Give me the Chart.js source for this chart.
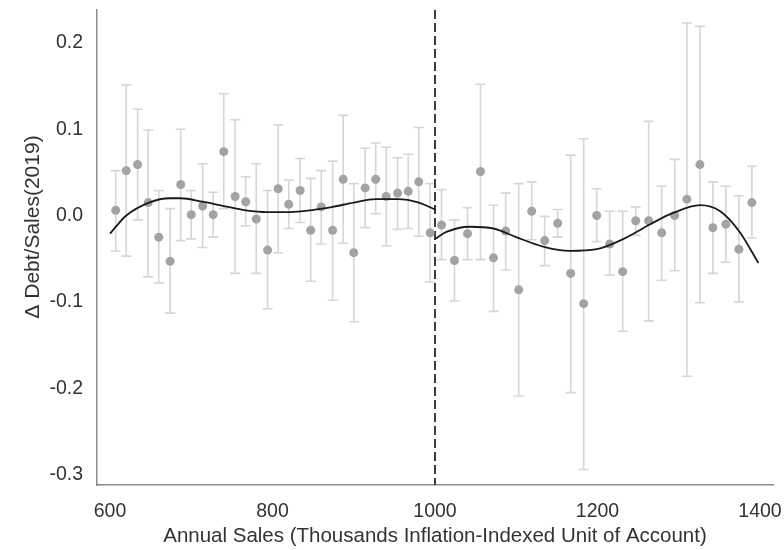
<!DOCTYPE html>
<html>
<head>
<meta charset="utf-8">
<script src="https://cdn.jsdelivr.net/npm/chart.js@4.4.1/dist/chart.umd.min.js"></script>
<style>
  html, body { margin: 0; padding: 0; background: #fff; }
</style>
</head>
<body>
<canvas id="rdChart" width="784" height="550"></canvas>
<script>
// binned means with confidence bands

const binX = [607, 620, 634, 647, 660, 674, 687, 700, 714, 727, 740, 754, 767, 780, 794,
              807, 820, 834, 847, 860, 874, 887, 900, 914, 927, 940, 954, 967, 980, 994,
              1008, 1024, 1040, 1056, 1072, 1087, 1103, 1119, 1135, 1151, 1167, 1183, 1199,
              1215, 1231, 1247, 1263, 1279, 1295, 1310, 1326, 1342, 1358, 1374, 1390];

const binMean = [0.006, 0.052, 0.059, 0.015, -0.025, -0.053, 0.036, 0.001, 0.011, 0.001, 0.074, 0.022, 0.016, -0.004, -0.040,
                 0.031, 0.013, 0.029, -0.017, 0.010, -0.017, 0.042, -0.043, 0.032, 0.042, 0.022, 0.026, 0.028, 0.039, -0.020,
                 -0.011, -0.052, -0.021, 0.051, -0.049, -0.018, -0.086, 0.005, -0.029, -0.009, -0.067, -0.102, 0.000,
                 -0.033, -0.065, -0.006, -0.006, -0.020, 0.000, 0.019, 0.059, -0.014, -0.010, -0.039, 0.015];

const errHigh = [0.052, 0.151, 0.123, 0.099, 0.029, 0.008, 0.100, 0.029, 0.060, 0.027, 0.141, 0.111, 0.045, 0.060, 0.029,
                 0.105, 0.041, 0.066, 0.043, 0.052, 0.063, 0.116, 0.037, 0.078, 0.084, 0.079, 0.067, 0.071, 0.102, 0.037,
                 0.030, -0.005, 0.009, 0.152, 0.012, 0.026, 0.037, 0.039, -0.001, 0.007, 0.070, 0.089, 0.031,
                 0.005, 0.005, 0.010, 0.109, 0.034, 0.065, 0.223, 0.219, 0.039, 0.034, 0.023, 0.057];

const errLow = [-0.041, -0.047, -0.005, -0.071, -0.078, -0.113, -0.029, -0.027, -0.037, -0.025, 0.008, -0.067, -0.012, -0.067, -0.108,
                -0.043, -0.015, -0.008, -0.076, -0.033, -0.098, -0.032, -0.123, -0.014, 0.002, -0.035, -0.016, -0.015, -0.024, -0.077,
                -0.051, -0.099, -0.051, -0.051, -0.111, -0.063, -0.209, -0.028, -0.058, -0.025, -0.205, -0.294, -0.030,
                -0.069, -0.134, -0.023, -0.122, -0.075, -0.064, -0.186, -0.101, -0.067, -0.054, -0.100, -0.026];

// polynomial fits, one each side of the cutoff
const fitLeftX = [600, 608, 620, 648, 674, 687, 714, 740, 767, 794, 821, 847, 874, 900, 927, 954, 980, 1000];
const fitLeftY = [-0.021, -0.012, 0.000, 0.015, 0.020, 0.020, 0.016, 0.011, 0.006, 0.004, 0.004, 0.006, 0.010, 0.015, 0.019, 0.019, 0.015, 0.007];
const fitRightX = [1000, 1014, 1043, 1072, 1100, 1133, 1166, 1199, 1232, 1265, 1293, 1326, 1351, 1375, 1398];
const fitRightY = [-0.027, -0.019, -0.013, -0.015, -0.025, -0.036, -0.041, -0.039, -0.027, -0.010, 0.003, 0.012, 0.005, -0.019, -0.055];

const cutoff = 1000;
const xTicks = [600, 800, 1000, 1200, 1400];
const yTicks = [-0.3, -0.2, -0.1, 0.0, 0.1, 0.2];
const xMin = 584, xMax = 1416;
const yMin = -0.312, yMax = 0.238;

const FONT = "'Liberation Sans', Arial, sans-serif";
Chart.defaults.font.family = FONT;

function toPoints(xs, ys) {
  return xs.map((v, i) => ({ x: v, y: ys[i] }));
}

// draw the error bars under the dots
const errorBars = {
  id: 'errorBars',
  beforeDatasetsDraw(chart) {
    const ctx = chart.ctx;
    const x = chart.scales.x, y = chart.scales.y;
    ctx.save();
    ctx.strokeStyle = '#d6d6d6';
    ctx.lineWidth = 1.6;
    for (let i = 0; i < binX.length; i++) {
      const px = x.getPixelForValue(binX[i]);
      const top = y.getPixelForValue(errHigh[i]);
      const bot = y.getPixelForValue(errLow[i]);
      ctx.beginPath();
      ctx.moveTo(px, top);
      ctx.lineTo(px, bot);
      ctx.moveTo(px - 5, top);
      ctx.lineTo(px + 5, top);
      ctx.moveTo(px - 5, bot);
      ctx.lineTo(px + 5, bot);
      ctx.stroke();
    }
    ctx.restore();
  }
};

// y title sits a bit above the middle of the axis in the original
const yTitle = {
  id: 'yTitle',
  afterDraw(chart) {
    const ctx = chart.ctx;
    ctx.save();
    ctx.translate(33, 227);
    ctx.rotate(-Math.PI / 2);
    ctx.font = "21px " + FONT;
    ctx.fillStyle = '#333';
    ctx.textAlign = 'center';
    ctx.textBaseline = 'middle';
    ctx.fillText('Δ Debt/Sales(2019)', 0, 0);
    ctx.restore();
  }
};

const ctx = document.getElementById('rdChart').getContext('2d');

const chart = new Chart(ctx, {
  type: 'scatter',
  data: {
    datasets: [
      {
        type: 'line',
        data: toPoints(fitLeftX, fitLeftY),
        borderColor: '#1a1a1a',
        borderWidth: 1.8,
        pointRadius: 0,
        cubicInterpolationMode: 'monotone',
        order: 0
      },
      {
        type: 'line',
        data: toPoints(fitRightX, fitRightY),
        borderColor: '#1a1a1a',
        borderWidth: 1.8,
        pointRadius: 0,
        cubicInterpolationMode: 'monotone',
        order: 0
      },
      {
        data: toPoints(binX, binMean),
        backgroundColor: '#a3a3a3',
        borderWidth: 0,
        pointRadius: 4.5,
        pointHoverRadius: 4.5,
        order: 1
      },
      {
        type: 'line',
        data: [{ x: cutoff, y: yMax }, { x: cutoff, y: yMin }],
        borderColor: '#3c3c3c',
        borderWidth: 2,
        borderDash: [9, 4],
        pointRadius: 0,
        order: 2
      }
    ]
  },
  options: {
    responsive: false,
    animation: false,
    layout: {
      padding: { top: 10, right: 11, bottom: 0, left: 0 }
    },
    plugins: {
      legend: { display: false },
      tooltip: { enabled: false }
    },
    scales: {
      x: {
        type: 'linear',
        min: xMin,
        max: xMax,
        afterBuildTicks: (s) => { s.ticks = xTicks.map(v => ({ value: v })); },
        afterFit: (s) => { s.height = 65; s.paddingLeft = 0; s.paddingRight = 0; },
        grid: { display: false, drawTicks: false },
        border: { display: true, color: '#8a8a8a', width: 1.5 },
        ticks: {
          font: { size: 19.5 },
          color: '#333',
          padding: 15,
          maxRotation: 0,
          autoSkip: false,
          callback: (v) => String(v)
        },
        title: {
          display: true,
          text: 'Annual Sales (Thousands Inflation-Indexed Unit of Account)',
          font: { size: 20.5 },
          color: '#333',
          padding: { top: 0, bottom: 1 }
        }
      },
      y: {
        type: 'linear',
        min: yMin,
        max: yMax,
        afterBuildTicks: (s) => { s.ticks = yTicks.map(v => ({ value: v })); },
        afterFit: (s) => { s.width = 97; s.paddingTop = 0; s.paddingBottom = 0; },
        grid: { display: false, drawTicks: false },
        border: { display: true, color: '#8a8a8a', width: 1.5 },
        ticks: {
          font: { size: 19.5 },
          color: '#333',
          padding: 14,
          callback: (v) => v.toFixed(1)
        }
      }
    }
  },
  plugins: [errorBars, yTitle]
});
</script>
</body>
</html>
